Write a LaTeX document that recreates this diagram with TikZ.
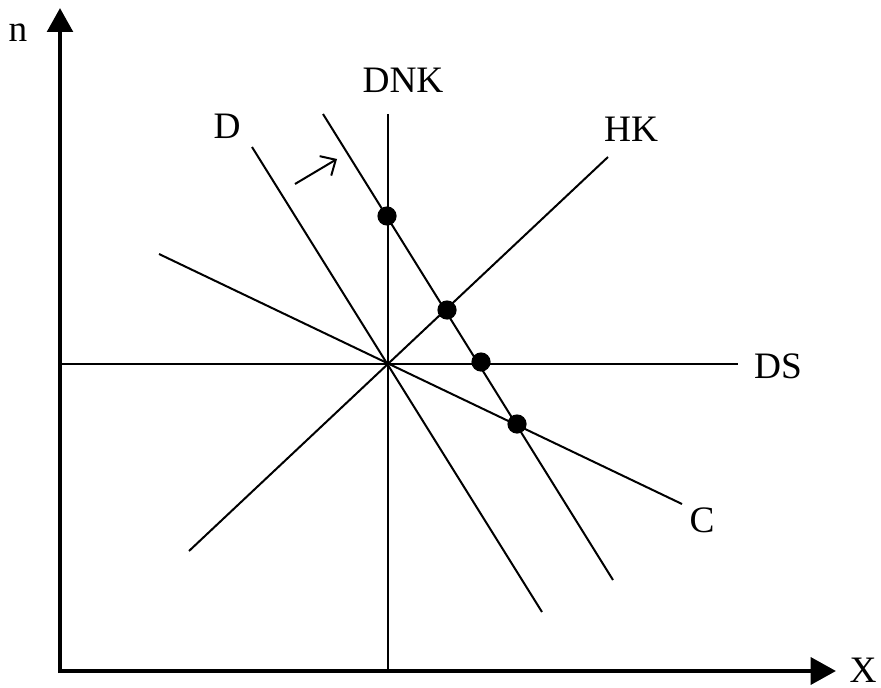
\documentclass[tikz,border=0pt]{standalone}
\usepackage{fontspec}
\setmainfont{Liberation Serif}
\usepackage{tikz}
\usetikzlibrary{arrows.meta}
\tikzset{every node/.append style={font=\fontsize{28}{30}\selectfont, inner sep=0pt, anchor=base}}
\tikzset{curve/.style={line width=1.5pt}, axis/.style={line width=3.4pt}, eqpt/.style={fill=black}}

\begin{document}
\begin{tikzpicture}[x=0.75pt, y=-0.75pt]
    \useasboundingbox (0,0) rectangle (881,688);
    % axes
    \coordinate (corner) at (60,671);
    \coordinate (ntip) at (60,8);
    \coordinate (xtip) at (836,671);
    \draw[axis, -{Triangle[length=18pt, width=19pt]}] (60,673) -- (ntip);
    \draw[axis, -{Triangle[length=19pt, width=20pt]}] (58,671) -- (xtip);
    \node (nlab) at (18,42) {n};
    \node (xlab) at (863,682) {X};
    % lines through the origin
    \coordinate (O) at (388,364);
    \coordinate (dnkt) at (388,114);
    \coordinate (dnkb) at (388,671);
    \coordinate (dsl) at (62,364);
    \coordinate (dsr) at (738,364);
    \coordinate (hkt) at (608,157);
    \coordinate (hkb) at (189,551);
    \coordinate (dt) at (252,147);
    \coordinate (db) at (542,612);
    \coordinate (ct) at (159,254);
    \coordinate (cb) at (682,504);
    \coordinate (d2t) at (323,114);
    \coordinate (d2b) at (613,580);
    \draw[line width=1.8pt] (dnkt) -- (dnkb);
    \draw[curve] (dsl) -- (dsr);
    \draw[curve] (hkb) -- (hkt);
    \draw[curve] (dt) -- (db);
    \draw[curve] (ct) -- (cb);
    \draw[curve] (d2t) -- (d2b);
    % shift arrow
    \coordinate (sfrom) at (295,184);
    \coordinate (sto) at (337,159);
    \draw[curve, -{Straight Barb[length=9pt, width=17pt]}] (sfrom) -- (sto);
    % labels
    \node (dnklab) at (403,93) {DNK};
    \node (dlab) at (227,139) {D};
    \node (hklab) at (631,142) {HK};
    \node (dslab) at (778,378) {DS};
    \node (clab) at (702,532) {C};
    % intersection points
    \fill[eqpt] (387,216) circle (7.2pt);
    \fill[eqpt] (447,310) circle (7.2pt);
    \fill[eqpt] (481,362) circle (7.2pt);
    \fill[eqpt] (517,424) circle (7.2pt);
\end{tikzpicture}
\end{document}
